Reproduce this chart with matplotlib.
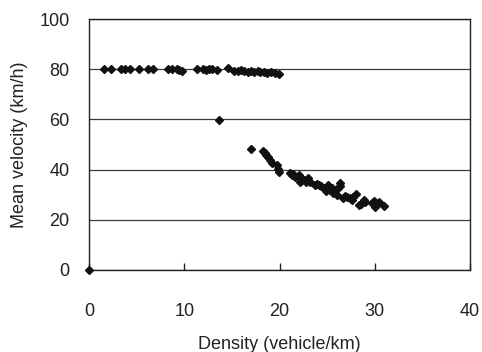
import matplotlib
matplotlib.use("Agg")
import matplotlib.pyplot as plt

plt.rcParams['font.family'] = ['Liberation Sans', 'DejaVu Sans']

# Free-flow branch
free_density = [0.0, 1.6, 2.3, 3.4, 3.8, 4.3, 5.3, 6.2, 6.7, 8.3, 8.7, 9.2, 9.5, 9.8, 11.3, 12.0, 12.3, 12.6, 12.9,
                13.4, 14.6, 15.2, 15.6, 16.0, 16.3, 16.7, 17.0, 17.3, 17.7, 18.0, 18.4, 18.7, 19.1, 19.5, 19.9,
                13.7]
free_velocity = [0.0, 80.0, 80.0, 80.0, 80.0, 80.0, 80.0, 80.0, 80.0, 80.0, 80.0, 80.0, 79.8, 79.4, 80.0, 80.0, 79.6, 80.0, 80.0,
                 79.8, 80.3, 79.4, 79.2, 79.5, 79.3, 79.0, 79.2, 79.0, 79.2, 78.8, 79.0, 78.6, 78.8, 78.5, 78.0,
                 59.8]

# Congested branch
cong_density = [17.0, 18.3, 18.5, 18.6, 18.8, 19.0, 19.2, 19.7, 19.8, 19.9,
                21.1, 21.3, 21.4, 21.6, 22.0, 22.1, 22.2, 22.3, 22.6, 22.8, 23.0, 23.2,
                23.7, 23.9, 24.1, 24.4, 24.7, 24.9, 25.0, 25.1, 25.3, 25.5, 25.6, 25.8, 26.0, 26.1, 26.3, 26.4,
                26.7, 26.9, 27.1, 27.4, 27.6, 27.7, 28.0, 28.3, 28.6, 28.9, 29.0, 29.7, 29.9, 30.0, 30.2, 30.4, 31.0]
cong_velocity = [48.2, 47.5, 46.8, 46.0, 45.1, 43.8, 42.5, 41.8, 40.1, 39.2,
                 38.5, 37.8, 38.3, 37.2, 37.8, 36.6, 35.2, 36.5, 35.9, 35.0, 36.5, 35.2,
                 33.9, 34.4, 33.9, 33.6, 32.5, 31.5, 33.0, 33.9, 32.0, 32.5, 30.6, 31.9, 29.9, 32.5, 33.4, 34.5,
                 28.6, 29.5, 29.2, 28.6, 28.0, 29.2, 30.4, 25.9, 26.3, 27.9, 27.0, 26.6, 27.5, 25.2, 26.4, 27.2, 25.5]

x_ticks = [0, 10, 20, 30, 40]
y_ticks = [0, 20, 40, 60, 80, 100]

fig = plt.figure(figsize=(4.82, 3.52), dpi=100)
ax = fig.add_axes([89/482, 82/352, 381/482, 251/352])

ax.plot(free_density, free_velocity, linestyle='none', marker='D', markersize=3.8,
        color='#111111', zorder=3, clip_on=False)
ax.plot(cong_density, cong_velocity, linestyle='none', marker='D', markersize=3.8,
        color='#111111', zorder=3, clip_on=False)

ax.set_xlim(0, 40)
ax.set_ylim(0, 100)
ax.set_xticks(x_ticks)
ax.set_yticks(y_ticks)
ax.yaxis.grid(True, color='#3a3a3a', linewidth=0.9)
ax.set_axisbelow(True)

for s in ax.spines.values():
    s.set_color('#222222')
    s.set_linewidth(1.0)

ax.tick_params(axis='x', direction='in', length=5, width=1, pad=24, labelsize=13, colors='#222222')
ax.tick_params(axis='y', direction='in', length=0, pad=14, labelsize=13, colors='#222222')

ax.set_xlabel('Density (vehicle/km)', fontsize=13, color='#222222', labelpad=11)
ax.set_ylabel('Mean velocity (km/h)', fontsize=13, color='#222222', labelpad=8)

fig.savefig('out.png', dpi=100, facecolor='white')
